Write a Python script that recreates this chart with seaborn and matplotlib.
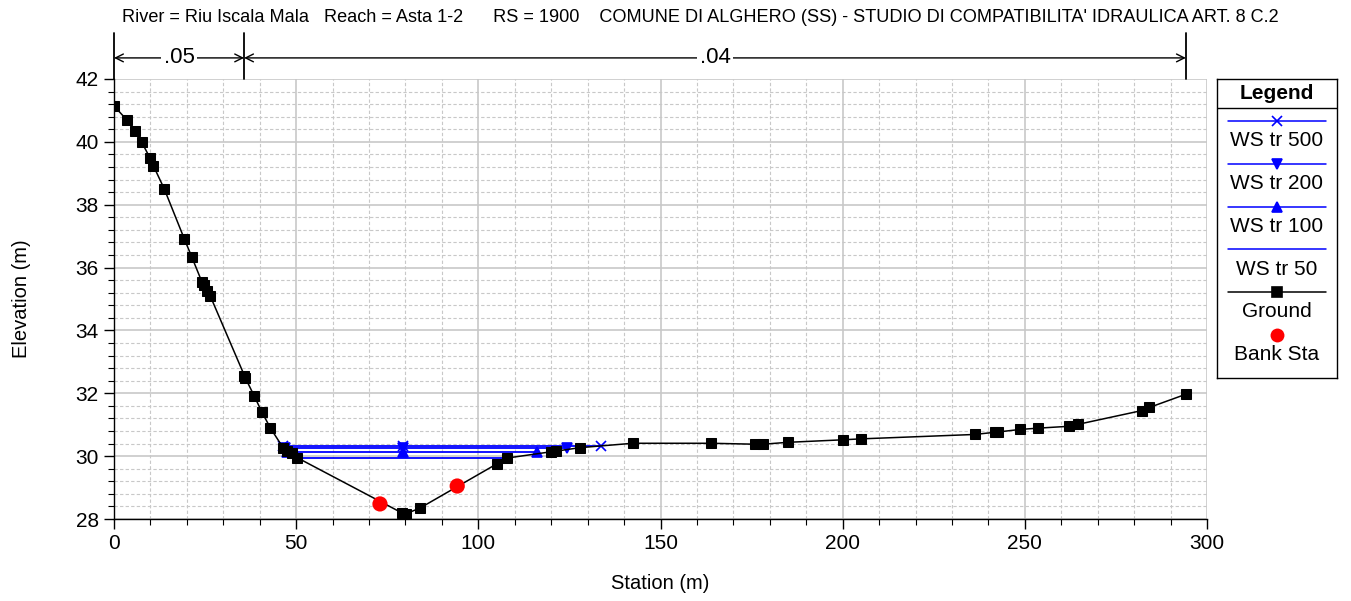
from pathlib import Path

import matplotlib.pyplot as plt
import pandas as pd
import seaborn as sns
from matplotlib.ticker import MultipleLocator


OUTPUT_PATH = Path("out.png")

TITLE = (
    "River = Riu Iscala Mala   Reach = Asta 1-2      RS = 1900    "
    "COMUNE DI ALGHERO (SS) - STUDIO DI COMPATIBILITA' IDRAULICA ART. 8 C.2"
)

# ground survey points (station m, elevation m)
GROUND_STATION = [
    0.0, 3.5, 5.7, 7.6, 9.9, 10.8, 13.8, 19.3, 21.3, 24.1, 24.7, 25.4, 26.4,
    35.8, 36.0, 38.5, 40.6, 42.9, 46.5, 47.6, 48.8, 50.3, 79.1, 80.2, 84.0,
    105.0, 107.9, 120.0, 121.3, 127.9, 142.4, 163.9, 176.0, 178.2, 184.9,
    200.0, 205.0, 236.2, 241.8, 242.7, 248.7, 253.5, 262.1, 264.5, 282.1,
    284.2, 294.2,
]
GROUND_ELEV = [
    41.14, 40.70, 40.35, 39.99, 39.48, 39.24, 38.50, 36.91, 36.35, 35.55,
    35.43, 35.25, 35.10, 32.56, 32.50, 31.91, 31.40, 30.90, 30.25, 30.17,
    30.09, 29.95, 28.19, 28.17, 28.35, 29.75, 29.94, 30.14, 30.16, 30.27,
    30.41, 30.41, 30.38, 30.38, 30.44, 30.52, 30.55, 30.69, 30.76, 30.77,
    30.85, 30.89, 30.95, 31.01, 31.45, 31.55, 31.97,
]

BANK_STATION = [73.0, 94.2]
BANK_ELEV = [28.48, 29.05]

WS_LABELS = ["WS tr 500", "WS tr 200", "WS tr 100", "WS tr 50"]
WS_ELEV = [30.33, 30.26, 30.12, 29.95]
WS_LEFT = [46.3, 46.9, 47.6, 50.3]
WS_MID = [79.2, 79.2, 79.2, 79.2]
WS_RIGHT = [133.7, 124.4, 116.1, 107.9]
WS_MARKERS = ["x", "v", "^", None]

N_BREAKS = [0.0, 35.7, 294.2]
N_VALUES = [".05", ".04"]

WS_COLOR = "#0000ff"
GRID_COLOR = "#c8c8c8"
FONT = ["Liberation Sans", "DejaVu Sans"]


def draw_profile(ax):
    ground = pd.DataFrame({"Station": GROUND_STATION, "Elevation": GROUND_ELEV})
    for label, elev, x0, xm, x1, marker in zip(
        WS_LABELS, WS_ELEV, WS_LEFT, WS_MID, WS_RIGHT, WS_MARKERS
    ):
        ws = pd.DataFrame({"Station": [x0, xm, x1], "Elevation": [elev] * 3})
        sns.lineplot(
            data=ws, x="Station", y="Elevation", ax=ax, color=WS_COLOR,
            linewidth=1.3, marker=marker, markersize=7,
            markeredgecolor=WS_COLOR, markeredgewidth=1.2,
            estimator=None, sort=False, zorder=3,
        )
    sns.lineplot(
        data=ground, x="Station", y="Elevation", ax=ax, color="black",
        linewidth=1.1, marker="s", markersize=7, markeredgecolor="black",
        estimator=None, sort=False, zorder=4,
    )
    sns.scatterplot(
        x=BANK_STATION, y=BANK_ELEV, ax=ax, color="#ff0000", s=120,
        edgecolor="none", zorder=5,
    )


def draw_mannings(ax):
    y_top, y_arrow = 43.45, 42.67
    for x in N_BREAKS:
        ax.plot([x, x], [42, y_top], color="black", linewidth=1.3, clip_on=False)
    for left, right, label in zip(N_BREAKS[:-1], N_BREAKS[1:], N_VALUES):
        mid = (left + right) / 2
        for end in (left, right):
            ax.annotate(
                "", xy=(end, y_arrow), xytext=(mid, y_arrow),
                arrowprops=dict(arrowstyle="->", color="black", lw=1.0,
                                shrinkA=0, shrinkB=0, mutation_scale=14),
                annotation_clip=False,
            )
        ax.text(mid, y_arrow, label, ha="center", va="center", fontsize=16,
                family=FONT,
                bbox=dict(facecolor="white", edgecolor="none", pad=2))


def draw_legend(fig):
    lax = fig.add_axes([0.9008, 0.371, 0.0888, 0.4975])
    lax.set_xlim(0, 1)
    lax.set_ylim(0, 1)
    lax.set_xticks([])
    lax.set_yticks([])
    for spine in lax.spines.values():
        spine.set_color("black")
        spine.set_linewidth(1.0)
    lax.text(0.5, 0.953, "Legend", ha="center", va="center", fontsize=15,
             fontweight="bold", family=FONT)
    lax.axhline(0.903, color="black", linewidth=1.0)

    entries = list(zip(WS_LABELS, [WS_COLOR] * 4, WS_MARKERS))
    entries.append(("Ground", "black", "s"))
    step = 0.1433
    for i, (label, color, marker) in enumerate(entries):
        y = 0.860 - i * step
        lax.plot([0.092, 0.908], [y, y], color=color, linewidth=1.1)
        if marker:
            lax.plot([0.5], [y], marker=marker, color=color, markersize=6.5,
                     markeredgecolor=color, markeredgewidth=1.2)
        lax.text(0.5, y - 0.0655, label, ha="center", va="center",
                 fontsize=15, family=FONT)
    y = 0.860 - 5 * step
    lax.plot([0.5], [y], marker="o", color="#ff0000", markersize=10,
             markeredgecolor="none")
    lax.text(0.5, y - 0.0655, "Bank Sta", ha="center", va="center",
             fontsize=15, family=FONT)


def main():
    sns.set_theme(style="white")
    plt.rcParams["font.family"] = FONT
    for key in ("text.color", "axes.labelcolor", "xtick.color", "ytick.color"):
        plt.rcParams[key] = "black"

    fig = plt.figure(figsize=(13.51, 6.01), dpi=100)
    ax = fig.add_axes([0.0844, 0.1364, 0.809, 0.7322])

    draw_profile(ax)

    ax.set_xlim(0, 300)
    ax.set_ylim(28, 42)
    ax.xaxis.set_major_locator(MultipleLocator(50))
    ax.xaxis.set_minor_locator(MultipleLocator(10))
    ax.yaxis.set_major_locator(MultipleLocator(2))
    ax.yaxis.set_minor_locator(MultipleLocator(0.4))
    ax.grid(which="major", color=GRID_COLOR, linewidth=1.2, linestyle="-")
    ax.grid(which="minor", color=GRID_COLOR, linewidth=0.8, linestyle=(0, (3, 2)))
    ax.set_axisbelow(True)
    ax.tick_params(which="major", direction="out", length=7, width=1.0,
                   color="black", labelsize=15, left=True, bottom=True, pad=4)
    ax.tick_params(which="minor", direction="out", length=4, width=0.8,
                   color="black", left=True, bottom=True)
    for side in ("top", "right"):
        ax.spines[side].set_visible(False)
    for side in ("left", "bottom"):
        ax.spines[side].set_color("black")
        ax.spines[side].set_linewidth(1.0)

    ax.set_xlabel("Station (m)", fontsize=14.5, labelpad=15)
    ax.set_ylabel("Elevation (m)", fontsize=14.5, labelpad=32)

    draw_mannings(ax)
    fig.text(0.518, 0.971, TITLE, ha="center", va="center", fontsize=13.1)
    draw_legend(fig)

    fig.savefig(OUTPUT_PATH, dpi=100)
    plt.close(fig)


if __name__ == "__main__":
    main()
